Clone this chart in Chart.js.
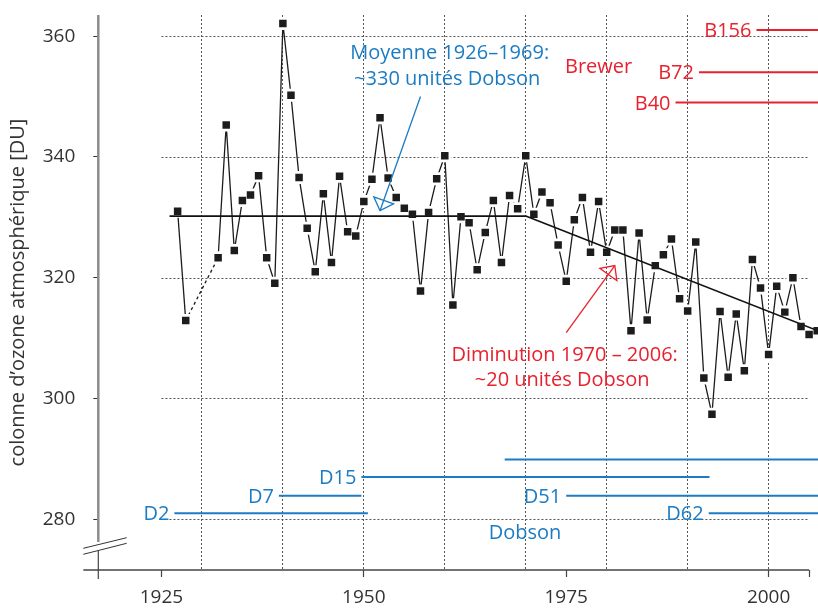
<!DOCTYPE html>
<html>
<head>
<meta charset="utf-8">
<script src="https://cdn.jsdelivr.net/npm/chart.js@4.4.1/dist/chart.umd.min.js"></script>
<style>
  html, body { margin: 0; padding: 0; background: #fff; }
</style>
</head>
<body>
<canvas id="ozoneChart" width="818" height="608"></canvas>
<script>
// yearly mean total ozone (Arosa)
const years = [1927, 1928, 1932, 1933, 1934, 1935, 1936, 1937, 1938, 1939,
  1940, 1941, 1942, 1943, 1944, 1945, 1946, 1947, 1948, 1949,
  1950, 1951, 1952, 1953, 1954, 1955, 1956, 1957, 1958, 1959,
  1960, 1961, 1962, 1963, 1964, 1965, 1966, 1967, 1968, 1969,
  1970, 1971, 1972, 1973, 1974, 1975, 1976, 1977, 1978, 1979,
  1980, 1981, 1982, 1983, 1984, 1985, 1986, 1987, 1988, 1989,
  1990, 1991, 1992, 1993, 1994, 1995, 1996, 1997, 1998, 1999,
  2000, 2001, 2002, 2003, 2004, 2005, 2006];
const ozone = [331.0, 312.9, 323.3, 345.3, 324.5, 332.8, 333.7, 336.9, 323.3, 319.1,
  362.1, 350.2, 336.6, 328.2, 321.0, 333.9, 322.5, 336.8, 327.6, 326.9,
  332.6, 336.3, 346.5, 336.5, 333.3, 331.5, 330.5, 317.8, 330.8, 336.4,
  340.2, 315.5, 330.1, 329.1, 321.3, 327.5, 332.8, 322.5, 333.6, 331.4,
  340.2, 330.5, 334.2, 332.4, 325.4, 319.4, 329.6, 333.3, 324.2, 332.6,
  324.2, 327.9, 327.9, 311.2, 327.4, 313.0, 322.0, 323.8, 326.4, 316.5,
  314.5, 325.9, 303.4, 297.4, 314.4, 303.5, 314.0, 304.6, 323.0, 318.3,
  307.3, 318.6, 314.3, 320.0, 311.9, 310.6, 311.2];

// mean 1926-1969 and trend 1970-2006
const meanYears = [1926, 1970];
const meanValues = [330.2, 330.2];
const trendYears = [1970, 2006.1];
const trendValues = [330.2, 311.2];

// instrument periods (level on the chart = row of the bar)
const brewerNames = ['B156', 'B72', 'B40'];
const brewerStart = [1998.5, 1991.4, 1988.5];
const brewerEnd = [2006.1, 2006.1, 2006.1];
const brewerLevel = [361.0, 354.0, 349.0];

const dobsonNames = ['D2', 'D7', 'D15', '', 'D51', 'D62'];
const dobsonStart = [1926.6, 1939.5, 1949.7, 1967.4, 1975.0, 1992.6];
const dobsonEnd = [1950.5, 1949.7, 1992.7, 2006.1, 2006.1, 2006.1];
const dobsonLevel = [281.0, 283.9, 287.0, 289.9, 283.9, 281.0];

const yTicks = [280, 300, 320, 340, 360];
const xLabelYears = [1925, 1950, 1975, 2000];
const xGridYears = [1930, 1940, 1950, 1960, 1970, 1980, 1990, 2000];
const xEndYear = 2005;

const BLUE = '#1b7bc3';
const RED = '#e8212e';
const INK = '#333333';
const FONT = 'Open Sans';

const pts = years.map((y, i) => ({ x: y, y: ozone[i] }));

function bar(start, end, level) {
  return [{ x: start, y: level }, { x: end, y: level }];
}

const datasets = [
  {
    data: pts, showLine: false, order: 0,
    pointStyle: 'rect', pointRadius: 5.3, pointBackgroundColor: '#1c1c1c', pointBorderWidth: 0
  },
  {
    data: meanYears.map((y, i) => ({ x: y, y: meanValues[i] })), order: 1,
    borderColor: '#111', borderWidth: 1.6, pointRadius: 0
  },
  {
    data: trendYears.map((y, i) => ({ x: y, y: trendValues[i] })), order: 1,
    borderColor: '#111', borderWidth: 1.6, pointRadius: 0
  },
  {
    data: pts, order: 2,
    borderColor: '#1c1c1c', borderWidth: 1.3,
    pointStyle: 'rect', pointRadius: 9.2, pointBackgroundColor: '#fff', pointBorderWidth: 0,
    segment: {
      borderDash: ctx => (ctx.p1.parsed.x - ctx.p0.parsed.x > 1 ? [3, 3] : undefined)
    }
  }
];
brewerNames.forEach((n, i) => datasets.push({
  data: bar(brewerStart[i], brewerEnd[i], brewerLevel[i]), order: 3, tag: n,
  borderColor: RED, borderWidth: 2, pointRadius: 0, labelColor: RED
}));
dobsonNames.forEach((n, i) => datasets.push({
  data: bar(dobsonStart[i], dobsonEnd[i], dobsonLevel[i]), order: 3, tag: n,
  borderColor: BLUE, borderWidth: 2, pointRadius: 0, labelColor: BLUE
}));

// free text, placed in data coordinates
const notes = [
  { text: 'Moyenne 1926\u20131969:', x: 1960.6, y: 357.4, color: BLUE },
  { text: '~330 unit\u00e9s Dobson', x: 1960.3, y: 353.1, color: BLUE },
  { text: 'Brewer', x: 1979.0, y: 355.1, color: RED },
  { text: 'Diminution 1970 \u2013 2006:', x: 1974.8, y: 307.3, color: RED },
  { text: '~20 unit\u00e9s Dobson', x: 1974.5, y: 303.2, color: RED },
  { text: 'Dobson', x: 1969.9, y: 277.9, color: BLUE }
];
const arrows = [
  { from: [1957.0, 350.0], to: [1952.0, 331.1], color: BLUE },
  { from: [1975.0, 310.9], to: [1981.0, 322.0], color: RED }
];

const decor = {
  id: 'decor',
  beforeDatasetsDraw(chart) {
    const { ctx, scales: { x, y } } = chart;
    ctx.save();
    ctx.strokeStyle = '#555';
    ctx.lineWidth = 1;
    ctx.setLineDash([2, 2]);
    yTicks.forEach(v => {
      const py = Math.round(y.getPixelForValue(v)) + 0.5;
      ctx.beginPath();
      ctx.moveTo(x.getPixelForValue(1925), py);
      ctx.lineTo(x.getPixelForValue(xEndYear), py);
      ctx.stroke();
    });
    ctx.restore();
  },
  afterDatasetsDraw(chart) {
    const { ctx, scales: { x, y } } = chart;
    ctx.save();
    ctx.font = '20px "' + FONT + '"';
    ctx.textBaseline = 'alphabetic';

    // bar labels
    ctx.textAlign = 'right';
    chart.data.datasets.forEach((ds, i) => {
      if (!ds.tag) return;
      const p = chart.getDatasetMeta(i).data[0];
      ctx.fillStyle = ds.labelColor;
      ctx.fillText(ds.tag, p.x - 5, p.y + 7);
    });

    ctx.textAlign = 'center';
    notes.forEach(n => {
      ctx.fillStyle = n.color;
      ctx.fillText(n.text, x.getPixelForValue(n.x), y.getPixelForValue(n.y) + 7);
    });

    arrows.forEach(a => {
      const x0 = x.getPixelForValue(a.from[0]), y0 = y.getPixelForValue(a.from[1]);
      const x1 = x.getPixelForValue(a.to[0]), y1 = y.getPixelForValue(a.to[1]);
      const len = Math.hypot(x1 - x0, y1 - y0);
      const ux = (x1 - x0) / len, uy = (y1 - y0) / len;
      const bx = x1 - ux * 11, by = y1 - uy * 11;
      ctx.strokeStyle = a.color;
      ctx.lineWidth = 1.3;
      ctx.beginPath();
      ctx.moveTo(x0, y0);
      ctx.lineTo(x1, y1);
      ctx.stroke();
      ctx.beginPath();
      ctx.moveTo(x1, y1);
      ctx.lineTo(bx - uy * 10.5, by + ux * 10.5);
      ctx.lineTo(bx + uy * 10.5, by - ux * 10.5);
      ctx.closePath();
      ctx.stroke();
    });
    ctx.restore();
  },
  afterDraw(chart) {
    const { ctx, chartArea: a, scales: { x, y } } = chart;
    ctx.save();
    // tick labels
    ctx.fillStyle = INK;
    ctx.font = '19px "' + FONT + '"';
    ctx.textBaseline = 'middle';
    ctx.textAlign = 'right';
    yTicks.forEach(v => ctx.fillText(String(v), a.left - 23, y.getPixelForValue(v)));
    ctx.textAlign = 'center';
    xLabelYears.forEach(v => ctx.fillText(String(v), x.getPixelForValue(v), a.bottom + 28));

    // x axis
    ctx.strokeStyle = '#444';
    ctx.lineWidth = 1.5;
    ctx.beginPath();
    ctx.moveTo(a.left - 15, a.bottom);
    ctx.lineTo(x.getPixelForValue(xEndYear), a.bottom);
    ctx.stroke();
    // y axis, broken near the bottom
    ctx.strokeStyle = '#8c8c8c';
    ctx.lineWidth = 2.5;
    ctx.beginPath();
    ctx.moveTo(a.left, a.top);
    ctx.lineTo(a.left, a.bottom - 28);
    ctx.stroke();
    ctx.strokeStyle = '#444';
    ctx.lineWidth = 1.2;
    ctx.beginPath();
    ctx.moveTo(a.left, a.bottom - 20);
    ctx.lineTo(a.left, a.bottom + 9);
    ctx.stroke();
    ctx.fillStyle = '#fff';
    ctx.beginPath();
    ctx.moveTo(a.left - 15, a.bottom - 21.7);
    ctx.lineTo(a.left + 28.4, a.bottom - 32.3);
    ctx.lineTo(a.left + 28.4, a.bottom - 26.7);
    ctx.lineTo(a.left - 15, a.bottom - 15.7);
    ctx.closePath();
    ctx.fill();
    ctx.strokeStyle = '#333';
    ctx.lineWidth = 1;
    [[-21.7, -32.3], [-15.7, -26.7]].forEach(([ya, yb]) => {
      ctx.beginPath();
      ctx.moveTo(a.left - 15, a.bottom + ya);
      ctx.lineTo(a.left + 28.4, a.bottom + yb);
      ctx.stroke();
    });
    ctx.restore();
  }
};

new Chart(document.getElementById('ozoneChart'), {
  type: 'line',
  data: { datasets },
  options: {
    responsive: false,
    animation: false,
    layout: { autoPadding: false, padding: { top: 15, right: 0, bottom: 0, left: 0 } },
    plugins: { legend: { display: false }, tooltip: { enabled: false } },
    elements: { line: { tension: 0 } },
    scales: {
      x: {
        type: 'linear', min: 1917.2, max: 2006.1,
        afterBuildTicks: s => {
          s.ticks = [1925, 1930, 1940, 1950, 1960, 1970, 1975, 1980, 1990, 2000, xEndYear]
            .map(v => ({ value: v }));
        },
        afterFit: s => { s.height = 38; },
        border: { display: false, dash: [2, 2] },
        grid: {
          color: c => (xGridYears.includes(c.tick.value) ? '#555' : 'rgba(0,0,0,0)'),
          lineWidth: 1,
          tickLength: 7,
          tickWidth: 1.2,
          tickBorderDash: [],
          tickColor: c => (xLabelYears.includes(c.tick.value) || c.tick.value === xEndYear ? '#444' : 'rgba(0,0,0,0)')
        },
        ticks: { display: false }
      },
      y: {
        type: 'linear', min: 271.6, max: 363.5,
        afterBuildTicks: s => { s.ticks = yTicks.map(v => ({ value: v })); },
        afterFit: s => { s.width = 98.3; },
        border: { display: false },
        grid: { drawOnChartArea: false, tickLength: 5, tickColor: '#333', tickWidth: 1 },
        ticks: { display: false },
        title: {
          display: true, text: 'colonne d\u2019ozone atmosph\u00e9rique [DU]',
          color: INK, font: { family: FONT, size: 20 }, padding: { top: 6, bottom: 0 }
        }
      }
    }
  },
  plugins: [decor]
});
</script>
</body>
</html>
